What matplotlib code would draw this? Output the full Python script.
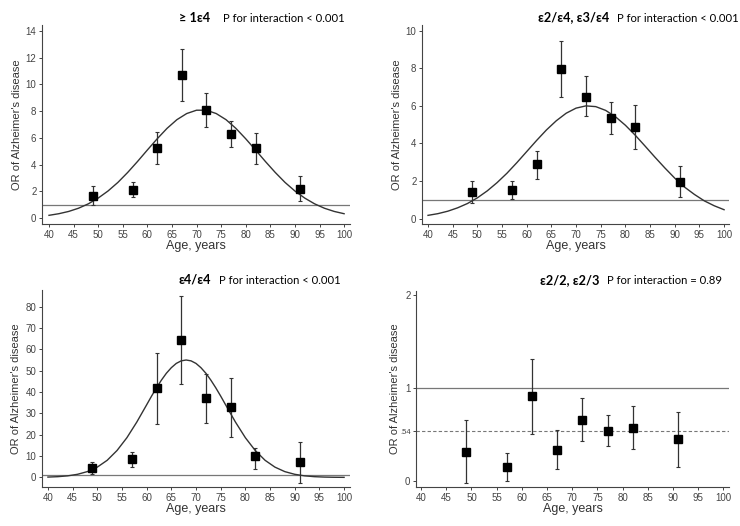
import numpy as np
import matplotlib.pyplot as plt

# age groups (midpoints) shared by all panels
ages = [49, 57, 62, 67, 72, 77, 82, 91]

# >= 1 e4
or_any = [1.67, 2.12, 5.23, 10.74, 8.10, 6.30, 5.23, 2.17]
lo_any = [0.95, 1.54, 4.04, 8.79, 6.80, 5.33, 4.04, 1.25]
hi_any = [2.37, 2.69, 6.43, 12.66, 9.34, 7.27, 6.40, 3.11]

# e2/e4, e3/e4
or_het = [1.40, 1.54, 2.91, 7.94, 6.49, 5.37, 4.88, 1.93]
lo_het = [0.82, 1.06, 2.13, 6.45, 5.44, 4.52, 3.72, 1.13]
hi_het = [1.99, 1.99, 3.62, 9.43, 7.57, 6.19, 6.03, 2.80]

# e4/e4
or_hom = [4.5, 8.4, 41.8, 64.2, 37.0, 33.0, 9.8, 7.2]
lo_hom = [1.6, 4.7, 25.1, 43.6, 25.3, 18.9, 4.1, -2.7]
hi_hom = [7.0, 12.0, 58.5, 85.2, 48.6, 46.6, 13.6, 16.8]

# e2/2, e2/3
or_e2 = [0.319, 0.151, 0.914, 0.337, 0.659, 0.545, 0.577, 0.452]
lo_e2 = [-0.018, 0.0, 0.509, 0.136, 0.430, 0.380, 0.344, 0.154]
hi_e2 = [0.656, 0.305, 1.312, 0.548, 0.892, 0.713, 0.814, 0.742]
pooled_e2 = 0.54

# fitted curves, every 2 years
curve_age = list(range(40, 101, 2))
curve_any = [0.20, 0.32, 0.49, 0.73, 1.06, 1.49, 2.02, 2.66, 3.41, 4.23, 5.09,
             5.93, 6.71, 7.36, 7.82, 8.07, 8.07, 7.82, 7.36, 6.71, 5.93, 5.09,
             4.23, 3.41, 2.66, 2.02, 1.49, 1.06, 0.73, 0.49, 0.32]
curve_het = [0.18, 0.27, 0.40, 0.58, 0.81, 1.11, 1.48, 1.92, 2.42, 2.98, 3.57,
             4.16, 4.72, 5.21, 5.61, 5.88, 6.00, 5.96, 5.76, 5.42, 4.97, 4.44,
             3.86, 3.27, 2.70, 2.16, 1.68, 1.29, 0.95, 0.69, 0.48]
# e4/e4 curve is steeper, so read every year around the peak
curve_age_hom = [40, 42, 44, 46, 48, 50, 52, 54, 56, 58, 60, 61, 62, 63, 64, 65,
                 66, 67, 68, 69, 70, 71, 72, 73, 74, 75, 76, 78, 80, 82, 84, 86,
                 88, 90, 92, 94, 96, 98, 100]
curve_hom = [0.15, 0.34, 0.72, 1.45, 2.72, 4.81, 8.0, 12.6, 18.6, 25.9, 34.0,
             38.1, 42.0, 45.6, 48.8, 51.4, 53.4, 54.6, 55.0, 54.6, 53.4, 51.4,
             48.8, 45.6, 42.0, 38.1, 34.0, 25.9, 18.6, 12.6, 8.0, 4.8, 2.7,
             1.45, 0.72, 0.34, 0.15, 0.06, 0.02]

W, H = 740, 526
fig = plt.figure(figsize=(W / 100, H / 100), dpi=100)

tick_font = 'Liberation Sans'
title_font = ['Lato', 'DejaVu Sans']


def make_axes(l, t, r, b, xlim, ylim, ylab_x):
    ax = fig.add_axes([l / W, 1 - b / H, (r - l) / W, (b - t) / H])
    ax.set_xlim(*xlim)
    ax.set_ylim(*ylim)
    for s in ['top', 'right']:
        ax.spines[s].set_visible(False)
    for s in ['left', 'bottom']:
        ax.spines[s].set_color('#444444')
        ax.spines[s].set_linewidth(0.8)
    ax.tick_params(colors='#444444', labelsize=7, length=2.5, width=0.7, pad=1.5)
    ax.set_xticks(range(40, 101, 5))
    ax.set_xlabel('Age, years', fontsize=9, family=tick_font, color='#333333', labelpad=0.5)
    ax.set_ylabel("OR of Alzheimer's disease", fontsize=8, family=tick_font,
                  color='#333333', va='center')
    ax.yaxis.set_label_coords((ylab_x - l) / (r - l), 0.5)
    return ax


def fix_fonts(ax):
    for lab in ax.get_xticklabels() + ax.get_yticklabels():
        lab.set_family(tick_font)


def draw_points(ax, orv, lo, hi):
    orv = np.array(orv)
    err = [orv - np.array(lo), np.array(hi) - orv]
    ax.errorbar(ages, orv, yerr=err, fmt='s', color='black', ms=5.2,
                ecolor='#333333', elinewidth=0.9, capsize=1.2, capthick=0.8, zorder=3)


def title(x_end_bold, x_start, y, bold, rest):
    fig.text(x_end_bold / W, 1 - y / H, bold, ha='right', va='baseline',
             fontsize=9.2, fontweight='bold', family=title_font)
    fig.text(x_start / W, 1 - y / H, rest, ha='left', va='baseline',
             fontsize=8.1, family=title_font)


# panel 1
ax1 = make_axes(42, 25, 350, 224, (38.58, 101.2), (-0.45, 14.45), 17)
ax1.set_yticks(range(0, 15, 2))
fix_fonts(ax1)
ax1.axhline(1, color='#777777', lw=0.9)
ax1.plot(curve_age, curve_any, color='#333333', lw=1.0)
draw_points(ax1, or_any, lo_any, hi_any)
title(210, 223, 21.5, '\u2265 1\u03b54', 'P for interaction < 0.001')

# panel 2
ax2 = make_axes(422, 25, 729, 224, (38.78, 101.0), (-0.28, 10.3), 397)
ax2.set_yticks(range(0, 11, 2))
fix_fonts(ax2)
ax2.axhline(1, color='#777777', lw=0.9)
ax2.plot(curve_age, curve_het, color='#333333', lw=1.0)
draw_points(ax2, or_het, lo_het, hi_het)
title(609, 617, 21.5, '\u03b52/\u03b54, \u03b53/\u03b54', 'P for interaction < 0.001')

# panel 3
ax3 = make_axes(42, 290, 350, 487, (38.8, 101.2), (-4.5, 87.8), 16)
ax3.set_yticks(range(0, 81, 10))
fix_fonts(ax3)
ax3.axhline(1, color='#777777', lw=0.9)
ax3.plot(curve_age_hom, curve_hom, color='#333333', lw=1.0)
draw_points(ax3, or_hom, lo_hom, hi_hom)
title(211, 219, 284, '\u03b54/\u03b54', 'P for interaction < 0.001')

# panel 4
ax4 = make_axes(416, 291, 729, 487, (39.0, 101.1), (-0.061, 2.046), 395)
ax4.set_yticks([0, pooled_e2, 1, 2])
ax4.set_yticklabels(['0', '.54', '1', '2'])
fix_fonts(ax4)
ax4.get_yticklabels()[1].set_fontsize(5.5)
ax4.axhline(1, color='#777777', lw=0.9)
ax4.axhline(pooled_e2, color='#777777', lw=0.8, ls=(0, (3, 2)))
draw_points(ax4, or_e2, lo_e2, hi_e2)
title(599, 607, 284, '\u03b52/2, \u03b52/3', 'P for interaction = 0.89')

fig.savefig('out.png', dpi=100)
